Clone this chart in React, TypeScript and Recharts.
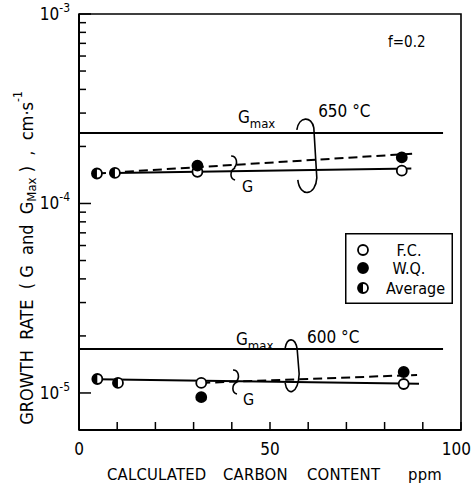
import React from 'react';
import {
  ComposedChart, Line, Scatter, XAxis, YAxis, ReferenceDot, ReferenceArea, Legend,
} from 'recharts';

const FONT = "'Liberation Sans Narrow', 'DejaVu Sans Condensed', 'Roboto Condensed', sans-serif";

// ---- data (x: calculated carbon content ppm, y: growth rate cm/s) ----
const fc650 = [{ x: 31, y: 1.47e-4 }, { x: 84.5, y: 1.49e-4 }];
const wq650 = [{ x: 31, y: 1.585e-4 }, { x: 84.5, y: 1.75e-4 }];
const avg650 = [{ x: 4.7, y: 1.44e-4 }, { x: 9.4, y: 1.45e-4 }];
const solid650 = [{ x: 9.4, y: 1.45e-4 }, { x: 87, y: 1.53e-4 }];
const dashed650 = [{ x: 4.7, y: 1.44e-4 }, { x: 87.2, y: 1.83e-4 }];
const gmax650 = [{ x: 0, y: 2.355e-4 }, { x: 95.3, y: 2.355e-4 }];

const fc600 = [{ x: 32, y: 1.13e-5 }, { x: 85, y: 1.115e-5 }];
const wq600 = [{ x: 32, y: 9.5e-6 }, { x: 85, y: 1.29e-5 }];
const avg600 = [{ x: 4.8, y: 1.185e-5 }, { x: 10.2, y: 1.13e-5 }];
const solid600 = [{ x: 4.8, y: 1.18e-5 }, { x: 89, y: 1.12e-5 }];
const dashed600 = [{ x: 32, y: 1.13e-5 }, { x: 88.5, y: 1.245e-5 }];
const gmax600 = [{ x: 0, y: 1.706e-5 }, { x: 95.3, y: 1.706e-5 }];

const xDomain = [0, 100];
const yDomain = [6.376e-6, 1e-3];
const xTicks = [0, 10, 20, 30, 40, 50, 60, 70, 80, 90, 100];
const xLabeled = [0, 50, 100];
const yMajor = [1e-5, 1e-4, 1e-3];
const yMinor = [2e-5, 3e-5, 4e-5, 5e-5, 6e-5, 7e-5, 8e-5, 9e-5, 2e-4, 3e-4, 4e-4, 5e-4, 6e-4, 7e-4, 8e-4, 9e-4];
const yTicks = [...yMajor, ...yMinor].sort((a, b) => a - b);
const yExp: Record<string, string> = { '0.00001': '-5', '0.0001': '-4', '0.001': '-3' };

const notes = [
  { x: 41.6, y: 2.66e-4, kind: 'gmax' },
  { x: 62.6, y: 2.86e-4, kind: 'temp', text: '650 °C' },
  { x: 59.9, y: 1.74e-4, kind: 'oval650' },
  { x: 40.6, y: 1.54e-4, kind: 'brace' },
  { x: 42.7, y: 1.15e-4, kind: 'G' },
  { x: 41.1, y: 1.79e-5, kind: 'gmax' },
  { x: 59.7, y: 1.836e-5, kind: 'temp', text: '600 °C' },
  { x: 55.8, y: 1.371e-5, kind: 'oval600' },
  { x: 41.1, y: 1.143e-5, kind: 'brace' },
  { x: 42.9, y: 8.65e-6, kind: 'G' },
  { x: 80.9, y: 6.7e-4, kind: 'f', text: 'f=0.2' },
];

const R = 5;
const OpenDot = (p: any) => (
  <circle cx={p.cx} cy={p.cy} r={R} fill="#fff" stroke="#000" strokeWidth={1.8} />
);
const FilledDot = (p: any) => (
  <circle cx={p.cx} cy={p.cy} r={R} fill="#000" stroke="#000" strokeWidth={1.8} />
);
const HalfDot = (p: any) => (
  <g>
    <circle cx={p.cx} cy={p.cy} r={R} fill="#fff" stroke="#000" strokeWidth={1.8} />
    <path d={`M${p.cx},${p.cy - R} A${R},${R} 0 0 0 ${p.cx},${p.cy + R} Z`} fill="#000" />
  </g>
);

const Note = (props: any) => {
  const { cx, cy, kind, text } = props;
  const common = { fontFamily: FONT, fill: '#000' };
  if (kind === 'gmax') {
    return (
      <text x={cx} y={cy} fontSize={17} {...common}>
        G<tspan fontSize={13} dy={5}>max</tspan>
      </text>
    );
  }
  if (kind === 'temp' || kind === 'f') {
    return <text x={cx} y={cy} fontSize={kind === 'f' ? 15 : 17} {...common}>{text}</text>;
  }
  if (kind === 'G') {
    return <text x={cx} y={cy} fontSize={16} {...common}>G</text>;
  }
  if (kind === 'oval650') {
    return (
      <path
        transform={`translate(${cx},${cy})`}
        d="M-11,-28 C-9,-42 4,-42 6,-30 L9,20 C8,38 -8,40 -10,22"
        fill="none" stroke="#000" strokeWidth={1.6}
      />
    );
  }
  if (kind === 'oval600') {
    return (
      <path
        transform={`translate(${cx},${cy})`}
        d="M-7,-19 C-5,-30 3,-30 5,-18 L7,7 C6,27 -5,30 -7,16"
        fill="none" stroke="#000" strokeWidth={1.6}
      />
    );
  }
  if (kind === 'brace') {
    return (
      <path
        transform={`translate(${cx},${cy})`}
        d="M-3,-12 C3,-12 4,-4 0,0 M1,0 C-5,3 -4,11 1,12"
        fill="none" stroke="#000" strokeWidth={1.6}
      />
    );
  }
  return null;
};

const XTick = (p: any) => {
  const { x, y, payload } = p;
  const v = payload.value;
  const last = v === 100;
  return (
    <g>
      <line x1={x} x2={x} y1={y} y2={y - 8} stroke="#000" strokeWidth={1.5} />
      {xLabeled.includes(v) && (
        <text
          x={last ? x + 10 : x} y={y + 25} textAnchor={last ? 'end' : 'middle'}
          fontSize={17} fontFamily={FONT} fill="#000"
        >{v}</text>
      )}
    </g>
  );
};

const YTick = (p: any) => {
  const { x, y, payload } = p;
  const v = payload.value;
  const major = yMajor.some((m) => Math.abs(m - v) / m < 1e-6);
  const key = String(Number(Number(v).toPrecision(3)));
  return (
    <g>
      <line x1={x} x2={x + (major ? 12 : 7)} y1={y} y2={y} stroke="#000" strokeWidth={1.5} />
      {major && (
        <text x={x - 9} y={y + 6} textAnchor="end" fontSize={17} fontFamily={FONT} fill="#000">
          10<tspan fontSize={12} dy={-8}>{yExp[key]}</tspan>
        </text>
      )}
    </g>
  );
};

const YLabel = (p: any) => {
  const vb = p.viewBox;
  const cx = vb.x + vb.width - 53;
  const cy = vb.y + vb.height / 2 + 36;
  return (
    <text
      x={cx} y={cy} transform={`rotate(-90 ${cx} ${cy})`}
      textAnchor="middle" fontSize={18} fontFamily={FONT} fill="#000"
      dominantBaseline="central" style={{ whiteSpace: 'pre' }}
    >
      {'GROWTH  RATE  ( G  and  G'}
      <tspan fontSize={13} dy={5}>Max</tspan>
      <tspan dy={-5}>{' )  ,  cm·s'}</tspan>
      <tspan fontSize={12} dy={-8}>-1</tspan>
    </text>
  );
};

const XLabel = (p: any) => {
  const vb = p.viewBox;
  const y = vb.y + 50;
  const x0 = vb.x;
  return (
    <text y={y} fontSize={16.5} fontFamily={FONT} fill="#000" letterSpacing={0.2}>
      <tspan x={x0 + 28}>CALCULATED</tspan>
      <tspan x={x0 + 144}>CARBON</tspan>
      <tspan x={x0 + 228}>CONTENT</tspan>
      <tspan x={x0 + 329}>ppm</tspan>
    </text>
  );
};

const LegendBox = () => (
  <svg width={108} height={71} style={{ display: 'block' }}>
    <rect x={0.75} y={0.75} width={106.5} height={69.5} fill="#fff" stroke="#000" strokeWidth={1.5} />
    <OpenDot cx={18} cy={17} />
    <FilledDot cx={18} cy={35} />
    <HalfDot cx={18} cy={55} />
    <text x={64} y={23} textAnchor="middle" fontSize={16} fontFamily={FONT}>F.C.</text>
    <text x={64} y={41} textAnchor="middle" fontSize={16} fontFamily={FONT}>W.Q.</text>
    <text x={100} y={61} textAnchor="end" fontSize={16} fontFamily={FONT}>Average</text>
  </svg>
);

const lineProps = {
  dataKey: 'y', dot: false, activeDot: false, stroke: '#000', strokeWidth: 2,
  isAnimationActive: false, type: 'linear' as const, legendType: 'none' as const,
};

export default function App() {
  return (
    <div style={{ position: 'absolute', left: 0, top: 0, background: '#fff' }}>
      <ComposedChart width={472} height={487} margin={{ top: 14, right: 11, bottom: 56, left: 78 }}>
        <XAxis
          dataKey="x" type="number" domain={xDomain} ticks={xTicks} allowDataOverflow
          height={1} tickSize={0} tickMargin={0} tick={<XTick />} tickLine={false}
          axisLine={{ stroke: '#000', strokeWidth: 2 }} interval={0}
          label={<XLabel />}
        />
        <YAxis
          dataKey="y" type="number" scale="log" domain={yDomain} allowDataOverflow
          ticks={yTicks} interval={0} width={1} tickSize={0} tickMargin={0}
          tick={<YTick />} tickLine={false} axisLine={{ stroke: '#000', strokeWidth: 2 }}
          label={<YLabel />}
        />
        <ReferenceArea
          x1={xDomain[0]} x2={xDomain[1]} y1={yDomain[0]} y2={yDomain[1]}
          fill="none" fillOpacity={0} stroke="#000" strokeWidth={1.6} ifOverflow="visible"
        />
        <Line data={gmax650} {...lineProps} />
        <Line data={gmax600} {...lineProps} />
        <Line data={solid650} {...lineProps} />
        <Line data={solid600} {...lineProps} />
        <Line data={dashed650} {...lineProps} strokeDasharray="9 5" />
        <Line data={dashed600} {...lineProps} strokeDasharray="9 5" />
        <Scatter name="F.C." data={fc650} dataKey="y" shape={<OpenDot />} isAnimationActive={false} />
        <Scatter name="W.Q." data={wq650} dataKey="y" shape={<FilledDot />} isAnimationActive={false} />
        <Scatter name="Average" data={avg650} dataKey="y" shape={<HalfDot />} isAnimationActive={false} />
        <Scatter name="F.C." data={fc600} dataKey="y" shape={<OpenDot />} isAnimationActive={false} legendType="none" />
        <Scatter name="W.Q." data={wq600} dataKey="y" shape={<FilledDot />} isAnimationActive={false} legendType="none" />
        <Scatter name="Average" data={avg600} dataKey="y" shape={<HalfDot />} isAnimationActive={false} legendType="none" />
        {notes.map((n, i) => (
          <ReferenceDot
            key={i} x={n.x} y={n.y} r={0} ifOverflow="visible"
            shape={(sp: any) => <Note {...sp} kind={n.kind} text={n.text} />}
          />
        ))}
        <Legend
          layout="vertical" align="center" verticalAlign="middle"
          wrapperStyle={{ left: 345, top: 233, width: 108, height: 71 }}
          content={() => <LegendBox />}
        />
      </ComposedChart>
    </div>
  );
}
